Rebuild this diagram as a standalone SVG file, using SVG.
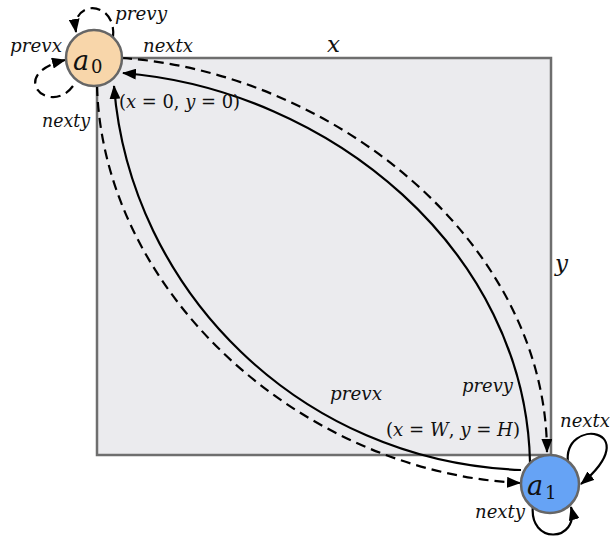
<svg xmlns="http://www.w3.org/2000/svg" width="613" height="536" viewBox="0 0 613 536">
<defs>
<marker id="arr" viewBox="0 0 14 11" refX="13" refY="5.5" markerWidth="14" markerHeight="11" markerUnits="userSpaceOnUse" orient="auto">
<path d="M0,0 L14,5.5 L0,11 z" fill="#000"/>
</marker>
<style>
.edge{fill:none;stroke:#000;stroke-width:2.2;marker-end:url(#arr)}
.dash{stroke-dasharray:10 6}
.lbl{font-family:"DejaVu Serif","Liberation Serif",serif;font-style:italic;font-size:18px;fill:#111}
.math{font-family:"DejaVu Serif","Liberation Serif",serif;font-size:18px;fill:#111}
.it{font-style:italic}
.node{stroke:#666;stroke-width:2.5}
.nl{font-family:"DejaVu Serif","Liberation Serif",serif;font-style:italic;font-size:27px;fill:#111}
.sub{font-family:"DejaVu Serif","Liberation Serif",serif;font-size:18px;fill:#111}
.axis{font-family:"DejaVu Serif","Liberation Serif",serif;font-style:italic;font-size:23px;fill:#111}
</style>
</defs>
<rect x="97" y="58" width="454" height="397" fill="#ebebee" stroke="#6e6e6e" stroke-width="2.5"/>
<text class="axis" x="327" y="52">x</text>
<text class="axis" x="555" y="271">y</text>
<g id="connectors">
<path class="edge" d="M530,462 C525,250 330,90 123,73"/>
<path class="edge dash" d="M122,58 C330,72 546,240 547,452"/>
<path class="edge" d="M521,470 C300,462 130,290 114,86"/>
<path class="edge dash" d="M97,86 C103,292 300,472 520,483"/>
<path class="edge dash" d="M113,37 C117,1 71,-2 76,32"/>
<path class="edge dash" d="M73,86 C50,117 5,75 65,60"/>
<path class="edge" d="M568,463 C562,416 648,428 581,484"/>
<path class="edge" d="M533,505 C528,546 580,542 571,507"/>
</g>
<g id="a0">
<circle class="node" cx="94" cy="58" r="28" fill="#f8d6aa"/>
<text class="nl" x="73" y="70">a</text><text class="sub" x="91" y="73">0</text>
</g>
<g id="a1">
<circle class="node" cx="550" cy="484" r="29" fill="#66a3f5"/>
<text class="nl" x="527" y="495">a</text><text class="sub" x="545" y="499">1</text>
</g>
<g id="labels">
<text class="lbl" x="115" y="20" textLength="52" lengthAdjust="spacingAndGlyphs">prevy</text>
<text class="lbl" x="10" y="52" textLength="52" lengthAdjust="spacingAndGlyphs">prevx</text>
<text class="lbl" x="143" y="52" textLength="50" lengthAdjust="spacingAndGlyphs">nextx</text>
<text class="lbl" x="42" y="127" textLength="48" lengthAdjust="spacingAndGlyphs">nexty</text>
<text class="math" x="119" y="108" textLength="121" lengthAdjust="spacingAndGlyphs">(<tspan class="it">x</tspan> = 0, <tspan class="it">y</tspan> = 0)</text>
<text class="lbl" x="330" y="400" textLength="52" lengthAdjust="spacingAndGlyphs">prevx</text>
<text class="lbl" x="462" y="392" textLength="51" lengthAdjust="spacingAndGlyphs">prevy</text>
<text class="math" x="386" y="436" textLength="134" lengthAdjust="spacingAndGlyphs">(<tspan class="it">x</tspan> = <tspan class="it">W</tspan>, <tspan class="it">y</tspan> = <tspan class="it">H</tspan>)</text>
<text class="lbl" x="560" y="427" textLength="50" lengthAdjust="spacingAndGlyphs">nextx</text>
<text class="lbl" x="475" y="518" textLength="50" lengthAdjust="spacingAndGlyphs">nexty</text>
</g>
</svg>
